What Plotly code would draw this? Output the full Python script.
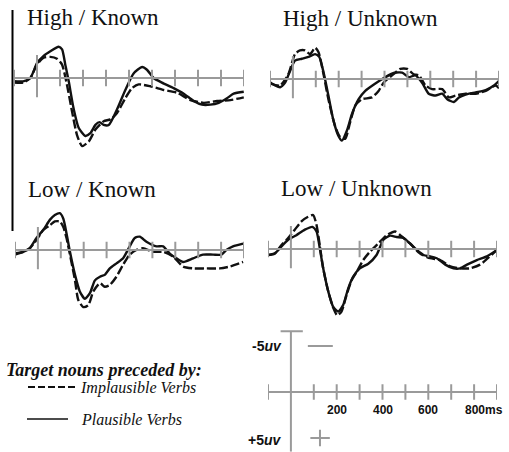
import plotly.graph_objects as go

# ---------------- data (ms, microvolts; negative plotted up) ----------------
hk_plaus_t = [-100,-60,-29,0,29,58,94,109,123,138,159,181,210,232,254,272,290,312,348,384,420,457,478,507,543,594,638,681,717,754,790,826,855,899]
hk_plaus_v = [0.36,0.36,0,-1.6,-2.4,-2.9,-3.4,-3.1,-1.45,0.36,3.3,5.4,6.3,6.0,5.1,4.8,5.1,5.1,3.4,1.3,-0.5,-1.2,-0.9,0,0.5,1.1,1.7,2.5,2.9,2.9,2.7,2.2,1.7,1.5]
hk_impl_t = [-100,-60,-29,0,29,58,87,109,130,152,174,196,225,254,290,319,348,384,413,442,493,551,609,667,725,783,841,899]
hk_impl_v = [0.5,0.5,0,-1.45,-2.2,-2.3,-2.1,-1.45,0.7,3.6,6.2,7.4,6.9,5.6,4.7,4.5,3.8,2.2,1.1,0.7,0.9,1.3,1.6,2.4,2.7,2.5,2.4,2.1]

hu_plaus_t = [-100,-78,-56,-34,-12,9,39,68,97,115,134,155,177,199,214,236,258,287,316,360,404,440,477,506,535,564,593,623,652,674,703,725,754,798,842,878,900]
hu_plaus_v = [0.36,0.7,0.9,0.4,-0.9,-2.0,-2.2,-2.4,-2.7,-2.4,-0.7,1.8,4.5,6.2,6.7,5.6,3.8,2.2,1.3,0.5,-0.2,-0.65,-0.7,-0.2,-0.4,0.4,1.6,1.8,1.6,2.2,2.5,2.0,1.7,1.45,1.2,0.7,0.2]
hu_impl_t = [-100,-56,-20,9,31,53,75,97,112,134,155,184,206,228,250,272,301,345,374,396,433,469,499,528,550,579,608,652,681,710,754,798,842,885,900]
hu_impl_v = [0.5,0.7,-0.5,-2.7,-3.1,-3.1,-2.7,-3.4,-2.9,-0.5,2.2,5.1,6.3,6.5,4.7,2.9,2.2,2.0,1.3,0.4,-0.4,-1.1,-1.1,-0.5,-0.4,0.7,1.1,1.1,2.0,1.8,1.6,1.6,1.3,0.7,1.0]

lk_plaus_t = [-100,-64,-35,-6,24,53,74,96,111,125,140,162,183,205,227,249,271,292,314,343,372,401,423,445,474,518,547,576,605,634,678,721,765,801,823,852,896]
lk_plaus_v = [0.36,0.2,-0.2,-1.3,-2.2,-3.3,-3.8,-4.0,-3.4,-1.8,0.2,2.7,4.5,5.3,4.7,3.3,2.9,2.7,2.0,1.45,0.9,-0.4,-1.3,-1.45,-0.9,-0.4,-0.4,0.4,0.9,1.3,0.9,0.5,0.5,0.5,0,-0.4,-0.7]
lk_impl_t = [-100,-64,-35,-6,24,53,74,96,111,125,140,162,176,198,220,242,271,292,314,343,372,401,430,459,503,547,590,634,678,736,794,838,896]
lk_impl_v = [0.5,0.2,-0.2,-1.1,-2.2,-2.7,-3.1,-3.1,-2.5,-1.3,0.5,3.3,5.4,6.2,6.0,4.5,3.6,4.0,3.8,2.9,1.6,0.5,0,-0.2,0.2,0.2,0.7,1.8,2.0,2.0,2.0,1.8,1.3]

lu_plaus_t = [-100,-71,-42,-12,24,61,94,112,126,141,163,185,207,228,250,272,301,338,374,404,433,462,491,520,550,579,608,637,674,710,739,769,812,856,900]
lu_plaus_v = [0.65,0.5,-0.25,-1.0,-1.5,-2.1,-2.4,-1.9,-0.1,2.1,4.6,6.3,6.8,6.1,4.3,3.0,2.1,1.6,0.65,-1.0,-1.45,-1.3,-1.2,-0.6,0.1,0.65,0.8,1.0,1.7,2.1,2.1,1.7,1.2,0.8,0.1]
lu_impl_t = [-100,-71,-42,-12,17,46,75,97,112,126,141,163,185,202,221,243,265,287,316,345,382,418,455,477,520,564,608,652,696,739,783,826,842,900]
lu_impl_v = [0.65,0.5,-0.4,-1.2,-2.1,-3.0,-3.5,-3.7,-2.6,-0.4,2.1,4.6,6.4,7.2,6.8,5.0,3.4,2.5,1.2,0.3,-0.6,-1.5,-1.9,-1.5,-0.6,0.5,1.0,1.2,1.9,2.1,2.1,1.7,1.4,0.1]

panel_titles = ["High / Known", "High / Unknown", "Low / Known", "Low / Unknown"]
tick_times = [-100, 0, 100, 200, 300, 400, 500, 600, 700, 800, 900]
scale_tick_labels = ["200", "400", "600", "800ms"]
scale_tick_times = [200, 400, 600, 800]
scale_uv = 5

series = [
    (hk_plaus_t, hk_plaus_v, hk_impl_t, hk_impl_v),
    (hu_plaus_t, hu_plaus_v, hu_impl_t, hu_impl_v),
    (lk_plaus_t, lk_plaus_v, lk_impl_t, lk_impl_v),
    (lu_plaus_t, lu_plaus_v, lu_impl_t, lu_impl_v),
]

# ---------------- layout geometry (pixels) ----------------
W, H = 509, 452
PX_PER_UV = 9.2
# (x px at -100ms, x px at 900ms, y px of zero line)
panels = [(14, 244, 78), (270, 499, 79), (15, 244, 250), (268, 497, 249)]
scale_panel = (268, 497, 392)
YR = (-5.5, 8.0)
YR_SCALE = (-6.8, 6.5)

GRAY = "#9a9a9a"
INK = "#111111"

fig = go.Figure()
layout = dict(width=W, height=H, margin=dict(l=0, r=0, t=0, b=0),
              paper_bgcolor="white", plot_bgcolor="rgba(0,0,0,0)",
              showlegend=False)
shapes = []
annotations = []


def add_axes(i, geom, yr):
    xl, xr, y0 = geom
    top = y0 + yr[0] * PX_PER_UV
    bot = y0 + yr[1] * PX_PER_UV
    sfx = "" if i == 1 else str(i)
    layout["xaxis" + sfx] = dict(domain=[xl / W, xr / W], range=[-100, 900],
                                  visible=False, fixedrange=True, anchor="y" + sfx)
    layout["yaxis" + sfx] = dict(domain=[1 - bot / H, 1 - top / H],
                                  range=[yr[1], yr[0]], visible=False,
                                  fixedrange=True, anchor="x" + sfx)
    return "x" + sfx, "y" + sfx


for i, (geom, title, (pt, pv, it, iv)) in enumerate(zip(panels, panel_titles, series), start=1):
    xr_, yr_ = add_axes(i, geom, YR)
    # baseline
    shapes.append(dict(type="line", xref=xr_, yref=yr_, x0=-100, x1=900, y0=0, y1=0,
                       line=dict(color=GRAY, width=2)))
    for t in tick_times:
        if t == 0:
            a, b = -2.5, 2.1
        else:
            a, b = -0.9, 0.9
        shapes.append(dict(type="line", xref=xr_, yref=yr_, x0=t, x1=t, y0=a, y1=b,
                           line=dict(color=GRAY, width=2)))
    fig.add_trace(go.Scatter(x=it, y=iv, xaxis=xr_, yaxis=yr_, mode="lines",
                             line=dict(color=INK, width=2.4, dash="9px,3px",
                                       shape="spline", smoothing=0.6),
                             hoverinfo="skip"))
    fig.add_trace(go.Scatter(x=pt, y=pv, xaxis=xr_, yaxis=yr_, mode="lines",
                             line=dict(color=INK, width=2.4, shape="spline", smoothing=0.6),
                             hoverinfo="skip"))
    annotations.append(dict(text=title, xref=xr_, yref=yr_, x=-100, y=-5.5,
                            xanchor="left", yanchor="bottom", xshift=11, yshift=-5,
                            showarrow=False,
                            font=dict(family="Liberation Serif", size=23, color=INK)))

# ---------------- scale / calibration axes ----------------
xs, ys = add_axes(5, scale_panel, YR_SCALE)
shapes.append(dict(type="line", xref=xs, yref=ys, x0=-100, x1=900, y0=0, y1=0,
                   line=dict(color=GRAY, width=2)))
shapes.append(dict(type="line", xref=xs, yref=ys, x0=0, x1=0, y0=-6.6, y1=6.5,
                   line=dict(color=GRAY, width=2)))
shapes.append(dict(type="line", xref=xs, yref=ys, x0=-45, x1=52, y0=-6.6, y1=-6.6,
                   line=dict(color=GRAY, width=2)))
for t in tick_times:
    if t == 0:
        continue
    shapes.append(dict(type="line", xref=xs, yref=ys, x0=t, x1=t, y0=-0.85, y1=0.85,
                       line=dict(color=GRAY, width=2)))
# -5 uV marker and +5 uV cross
shapes.append(dict(type="line", xref=xs, yref=ys, x0=74, x1=183, y0=-scale_uv, y1=-scale_uv,
                   line=dict(color=GRAY, width=2)))
shapes.append(dict(type="line", xref=xs, yref=ys, x0=85, x1=170, y0=scale_uv, y1=scale_uv,
                   line=dict(color=GRAY, width=2)))
shapes.append(dict(type="line", xref=xs, yref=ys, x0=127, x1=127, y0=scale_uv - 0.9, y1=scale_uv + 0.9,
                   line=dict(color=GRAY, width=2)))
annotations.append(dict(text="-5<i>uv</i>", xref=xs, yref=ys, x=-30, y=-scale_uv,
                        xanchor="right", yanchor="middle", showarrow=False,
                        font=dict(family="Liberation Sans", size=14, color=INK, weight="bold")))
annotations.append(dict(text="+5<i>uv</i>", xref=xs, yref=ys, x=-30, y=scale_uv + 0.2,
                        xanchor="right", yanchor="middle", showarrow=False,
                        font=dict(family="Liberation Sans", size=14, color=INK, weight="bold")))
for t, lab in zip(scale_tick_times, scale_tick_labels):
    annotations.append(dict(text=lab, xref=xs, yref=ys, x=t, y=2.0,
                            xanchor="center", yanchor="middle", showarrow=False,
                            xshift=10 if lab.endswith("ms") else 0,
                            font=dict(family="Liberation Sans", size=12, color=INK, weight="bold")))

# ---------------- legend ----------------
annotations.append(dict(text="<b><i>Target nouns preceded by:</i></b>", xref="paper", yref="paper",
                        x=4 / W, y=1 - 370 / H, xanchor="left", yanchor="middle", showarrow=False,
                        font=dict(family="Liberation Serif", size=18, color=INK)))
shapes.append(dict(type="line", xref="paper", yref="paper", x0=28 / W, x1=75 / W,
                   y0=1 - 387 / H, y1=1 - 387 / H, line=dict(color=INK, width=2, dash="7px,3px")))
annotations.append(dict(text="<i>Implausible Verbs</i>", xref="paper", yref="paper",
                        x=78 / W, y=1 - 388 / H, xanchor="left", yanchor="middle", showarrow=False,
                        font=dict(family="Liberation Serif", size=16, color=INK)))
shapes.append(dict(type="line", xref="paper", yref="paper", x0=27 / W, x1=68 / W,
                   y0=1 - 419 / H, y1=1 - 419 / H, line=dict(color=INK, width=1.5)))
annotations.append(dict(text="<i>Plausible Verbs</i>", xref="paper", yref="paper",
                        x=79 / W, y=1 - 419 / H, xanchor="left", yanchor="middle", showarrow=False,
                        font=dict(family="Liberation Serif", size=16, color=INK)))

# thin black vertical rule at left (as in the source figure)
shapes.append(dict(type="line", xref="paper", yref="paper", x0=12.5 / W, x1=12.5 / W,
                   y0=1 - 10 / H, y1=1 - 231 / H, line=dict(color="black", width=2)))

layout["shapes"] = shapes
layout["annotations"] = annotations
fig.update_layout(**layout)
fig.write_html("out.html")
